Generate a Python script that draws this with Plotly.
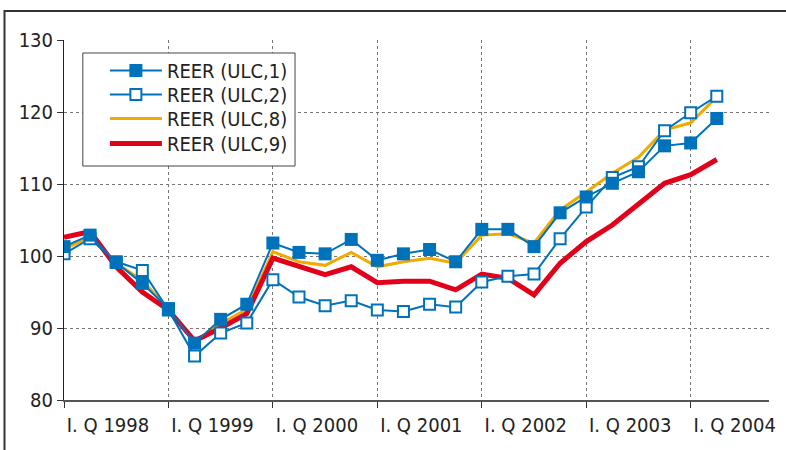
import plotly.graph_objects as go

quarters = list(range(26))  # I.Q 1998 ... II.Q 2004
tick_vals = [0, 4, 8, 12, 16, 20, 24]
tick_text = ["I. Q 1998", "I. Q 1999", "I. Q 2000", "I. Q 2001", "I. Q 2002", "I. Q 2003", "I. Q 2004"]

reer_ulc1 = [101.3, 102.9, 99.1, 96.2, 92.7, 87.9, 91.2, 93.3, 101.8, 100.5, 100.3, 102.3,
             99.4, 100.3, 100.9, 99.2, 103.7, 103.7, 101.3, 106.0, 108.2, 110.1, 111.7, 115.3, 115.7, 119.1]
reer_ulc2 = [100.3, 102.4, 99.2, 98.0, 92.5, 86.1, 89.3, 90.7, 96.7, 94.3, 93.1, 93.8,
             92.5, 92.3, 93.3, 92.9, 96.4, 97.2, 97.5, 102.4, 106.8, 110.9, 112.4, 117.4, 119.9, 122.2]
reer_ulc8 = [101.0, 102.6, 99.0, 96.6, 92.6, 88.1, 90.6, 92.6, 100.6, 99.2, 98.7, 100.5,
             98.5, 99.2, 99.7, 99.0, 102.9, 103.1, 101.8, 106.4, 108.9, 111.5, 113.7, 117.5, 118.5, 122.1]
reer_ulc9 = [102.6, 103.4, 98.5, 95.0, 92.5, 88.2, 90.0, 92.0, 99.7, 98.6, 97.4, 98.5,
             96.3, 96.5, 96.5, 95.3, 97.5, 96.9, 94.6, 99.0, 102.0, 104.3, 107.1, 110.1, 111.3, 113.4]

BLUE = "rgb(0,114,187)"
YELLOW = "rgb(240,170,0)"
RED = "rgb(226,0,26)"
FONT = "DejaVu Sans Condensed, Liberation Sans Narrow, sans-serif"

fig = go.Figure()
fig.add_trace(go.Scatter(x=quarters, y=reer_ulc8, mode="lines", name="REER (ULC,8)",
                         line=dict(color=YELLOW, width=3), legend="legend3"))
fig.add_trace(go.Scatter(x=quarters, y=reer_ulc9, mode="lines", name="REER (ULC,9)",
                         line=dict(color=RED, width=5), legend="legend4"))
fig.add_trace(go.Scatter(x=quarters, y=reer_ulc2, mode="lines+markers", name="REER (ULC,2)",
                         line=dict(color=BLUE, width=2),
                         marker=dict(symbol="square", size=11, color="white",
                                     line=dict(color=BLUE, width=2)), legend="legend2"))
fig.add_trace(go.Scatter(x=quarters, y=reer_ulc1, mode="lines+markers", name="REER (ULC,1)",
                         line=dict(color=BLUE, width=2),
                         marker=dict(symbol="square", size=13, color=BLUE,
                                     line=dict(color=BLUE, width=0)), legend="legend"))

def leg(ytop):
    return dict(x=0.058, y=ytop, xanchor="left", yanchor="top",
                borderwidth=0, bgcolor="rgba(0,0,0,0)", itemwidth=52,
                font=dict(size=20, color="#222"))

fig.update_layout(
    width=786, height=450,
    margin=dict(l=64, r=11, t=40, b=50),
    paper_bgcolor="white", plot_bgcolor="white",
    font=dict(family=FONT, size=20, color="#222"),
    showlegend=True,
    legend=leg(0.9694),
    legend2=leg(0.9028),
    legend3=leg(0.8361),
    legend4=leg(0.7667),
    xaxis=dict(range=[0, 27], tickmode="array", tickvals=tick_vals, ticktext=tick_text,
               showgrid=True, gridcolor="#777", griddash="dot", gridwidth=1,
               showline=True, linecolor="#555", linewidth=2,
               ticks="outside", ticklen=6, tickcolor="#333",
               ticklabelshift=44, zeroline=False, fixedrange=True),
    yaxis=dict(range=[80, 130], tickvals=[80, 90, 100, 110, 120, 130],
               showgrid=True, gridcolor="#777", griddash="dot", gridwidth=1,
               showline=True, linecolor="#222", linewidth=1,
               ticks="outside", ticklen=6, tickcolor="#333",
               zeroline=False, fixedrange=True),
    shapes=[
        dict(type="rect", xref="paper", yref="paper",
             x0=-0.0844, x1=1.03, y0=-0.16, y1=1.0806,
             line=dict(color="#333", width=2), fillcolor="rgba(0,0,0,0)", layer="above"),
        dict(type="rect", xref="paper", yref="paper",
             x0=0.0267, x1=0.3277, y0=0.65, y1=0.9639,
             line=dict(color="#444", width=1), fillcolor="white", layer="above"),
    ],
)

fig.write_html("out.html", config={"displayModeBar": False},
               post_script="document.body.style.margin='0';document.body.style.overflow='hidden';")
